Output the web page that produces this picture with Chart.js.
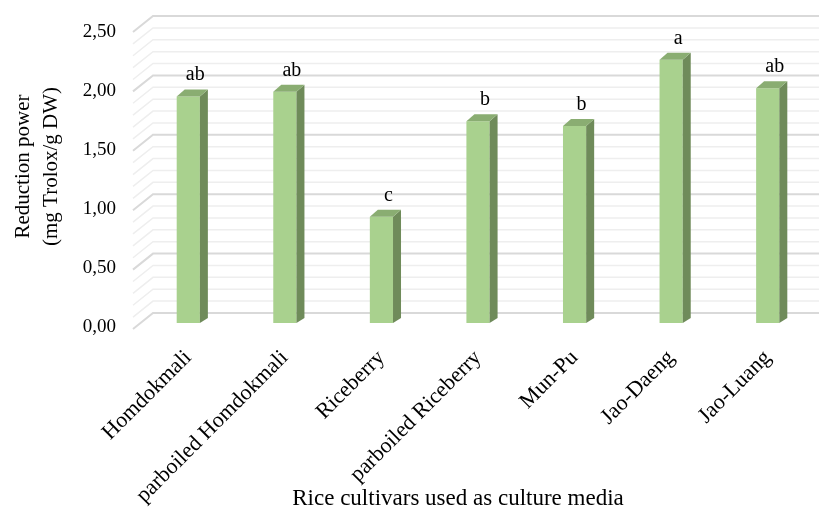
<!DOCTYPE html>
<html>
<head>
<meta charset="utf-8">
<script src="https://cdn.jsdelivr.net/npm/chart.js@4/dist/chart.umd.min.js"></script>
<style>
  html, body { margin: 0; padding: 0; background: #fff; }
  #wrap { width: 819px; height: 510px; }
</style>
</head>
<body>
<div id="wrap"><canvas id="reductionChart"></canvas></div>
<script>
const cultivars = ['Homdokmali', 'parboiled Homdokmali', 'Riceberry', 'parboiled Riceberry', 'Mun-Pu', 'Jao-Daeng', 'Jao-Luang'];
const reductionPower = [1.92, 1.96, 0.90, 1.71, 1.67, 2.23, 1.99];
const letters = ['ab', 'ab', 'c', 'b', 'b', 'a', 'ab'];
const yTicks = [0, 0.5, 1, 1.5, 2, 2.5];
const xTitle = 'Rice cultivars used as culture media';
const yTitle = ['Reduction power', '(mg Trolox/g DW)'];

const SERIF = "'Liberation Serif', 'DejaVu Serif', serif";

// depth of the fake 3D bars and the back wall
const DEPTH_X = 8, DEPTH_Y = 7;
const WALL_X = 13, WALL_DY = 10;

// back wall grid with the floor/side diagonals, every 0.1
const wallGrid = {
    id: 'wallGrid',
    beforeDatasetsDraw(chart) {
        const { ctx, chartArea, scales: { y } } = chart;
        const x0 = chartArea.left + WALL_X;
        ctx.save();
        for (let i = 0; i <= 25; i++) {
            const v = i / 10;
            const yb = y.getPixelForValue(v) - WALL_DY - 0.8 * v;
            const major = i % 5 === 0;
            ctx.strokeStyle = major ? '#d9d9d9' : '#eeeeee';
            ctx.lineWidth = major ? 2 : 1.5;
            ctx.beginPath();
            ctx.moveTo(x0 - 20, yb + 16);
            ctx.lineTo(x0, yb);
            ctx.lineTo(chart.width, yb);
            ctx.stroke();
        }
        ctx.restore();
    }
};

// side and top faces of the bars, then the letters above them
const bars3d = {
    id: 'bars3d',
    afterDatasetsDraw(chart) {
        const { ctx } = chart;
        const meta = chart.getDatasetMeta(0);
        ctx.save();
        meta.data.forEach((bar, i) => {
            const { x, y, base, width } = bar.getProps(['x', 'y', 'base', 'width'], true);
            const l = x - width / 2, r = x + width / 2;
            // side
            ctx.fillStyle = '#6f8b5a';
            ctx.beginPath();
            ctx.moveTo(r, y);
            ctx.lineTo(r + DEPTH_X, y - DEPTH_Y);
            ctx.lineTo(r + DEPTH_X, base - 5);
            ctx.lineTo(r, base);
            ctx.closePath();
            ctx.fill();
            // top
            ctx.fillStyle = '#8aad72';
            ctx.beginPath();
            ctx.moveTo(l, y);
            ctx.lineTo(l + DEPTH_X, y - DEPTH_Y);
            ctx.lineTo(r + DEPTH_X, y - DEPTH_Y);
            ctx.lineTo(r, y);
            ctx.closePath();
            ctx.fill();

            ctx.fillStyle = '#000';
            ctx.font = '20px ' + SERIF;
            ctx.textAlign = 'center';
            ctx.textBaseline = 'alphabetic';
            ctx.fillText(letters[i], x + 7, y - 16);
        });
        ctx.restore();
    }
};

// axis titles, placed by hand so they sit where the wall makes them look centred
const axisTitles = {
    id: 'axisTitles',
    afterDraw(chart) {
        const { ctx, chartArea } = chart;
        ctx.save();
        ctx.fillStyle = '#000';
        ctx.textAlign = 'center';
        ctx.textBaseline = 'middle';

        ctx.font = '23px ' + SERIF;
        ctx.fillText(xTitle, (chartArea.left + chartArea.right) / 2 - 20, chart.height - 11);

        ctx.font = '21px ' + SERIF;
        ctx.translate(0, (chartArea.top + chartArea.bottom) / 2 - 9);
        ctx.rotate(-Math.PI / 2);
        yTitle.forEach((line, i) => ctx.fillText(line, 0, 23 + i * 28));
        ctx.restore();
    }
};

new Chart(document.getElementById('reductionChart'), {
    type: 'bar',
    data: {
        labels: cultivars,
        datasets: [{
            data: reductionPower,
            backgroundColor: '#a9d18e',
            borderWidth: 0,
            barPercentage: 0.24,
            categoryPercentage: 1
        }]
    },
    options: {
        responsive: true,
        maintainAspectRatio: false,
        animation: false,
        layout: { padding: { top: 28, right: 3, bottom: 0, left: 0 } },
        plugins: {
            legend: { display: false },
            tooltip: { enabled: false }
        },
        scales: {
            x: {
                grid: { display: false, drawTicks: false },
                border: { display: false },
                ticks: {
                    color: '#000',
                    font: { family: SERIF, size: 22 },
                    minRotation: 45,
                    maxRotation: 45,
                    padding: 22,
                    autoSkip: false
                },
                afterFit(scale) {
                    scale.height = 187;
                    scale.paddingLeft = 0;
                    scale.paddingRight = 0;
                }
            },
            y: {
                min: 0,
                max: 2.5,
                grid: { display: false, drawTicks: false },
                border: { display: false },
                afterBuildTicks(scale) { scale.ticks = yTicks.map(v => ({ value: v })); },
                ticks: {
                    color: '#000',
                    font: { family: SERIF, size: 19 },
                    padding: 24,
                    labelOffset: 4,
                    callback: v => v.toFixed(2).replace('.', ',')
                },
                afterFit(scale) {
                    scale.width = 140;
                    scale.paddingTop = 0;
                    scale.paddingBottom = 0;
                }
            }
        }
    },
    plugins: [wallGrid, bars3d, axisTitles]
});
</script>
</body>
</html>
